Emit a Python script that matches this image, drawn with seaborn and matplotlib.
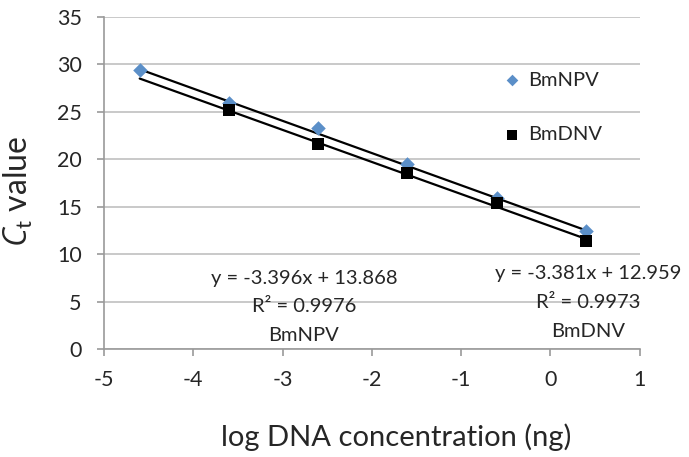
import numpy as np
import pandas as pd
import seaborn as sns
import matplotlib
matplotlib.use("Agg")
import matplotlib.pyplot as plt

# Data
log_conc = [-4.6, -3.6, -2.6, -1.6, -0.6, 0.4]
bmnpv_ct = [29.4, 25.9, 23.3, 19.5, 15.9, 12.4]
bmdnv_conc = [-3.6, -2.6, -1.6, -0.6, 0.4]
bmdnv_ct = [25.2, 21.6, 18.6, 15.4, 11.4]
series = ["BmNPV", "BmDNV"]
slopes = [-3.396, -3.381]
intercepts = [13.868, 12.959]
r2 = ["0.9976", "0.9973"]
fit_range = [-4.6, 0.4]

sns.set_theme(style="white")
plt.rcParams['font.family'] = ['Lato', 'DejaVu Sans']
plt.rcParams['axes.unicode_minus'] = False
plt.rcParams['mathtext.fontset'] = 'custom'
plt.rcParams['mathtext.it'] = 'Open Sans:italic'
plt.rcParams['mathtext.rm'] = 'Lato'

fig = plt.figure(figsize=(6.89, 4.57), dpi=100)
ax = fig.add_axes([104 / 689, 108 / 457, 535.5 / 689, 332 / 457])

# Trend lines
for s, m, b in zip(series, slopes, intercepts):
    xs = np.array(fit_range)
    fit_df = pd.DataFrame({"x": xs, "y": m * xs + b})
    sns.lineplot(data=fit_df, x="x", y="y", ax=ax, color="black", linewidth=1.6, legend=False)

df1 = pd.DataFrame({"x": log_conc, "y": bmnpv_ct})
df2 = pd.DataFrame({"x": bmdnv_conc, "y": bmdnv_ct})
sns.scatterplot(data=df1, x="x", y="y", ax=ax, marker="D", s=55, color="#5b8fc8",
                edgecolor="#5b8fc8", linewidth=0, label="BmNPV", zorder=3)
sns.scatterplot(data=df2, x="x", y="y", ax=ax, marker="s", s=70, color="black",
                edgecolor="black", linewidth=0, label="BmDNV", zorder=4)

ax.set_xlim(-5, 1)
ax.set_ylim(0, 35)
ax.set_xticks(range(-5, 2))
ax.set_yticks(range(0, 36, 5))
ax.grid(axis="y", color="#c0c0c0", linewidth=1.2)
ax.set_axisbelow(True)
for sp in ["top", "right"]:
    ax.spines[sp].set_visible(False)
for sp in ["left", "bottom"]:
    ax.spines[sp].set_color("#9a9a9a")
    ax.spines[sp].set_linewidth(1.2)
ax.tick_params(axis="both", which="major", length=5, width=1.2, color="#9a9a9a",
               labelsize=15.5, direction="out", bottom=True, left=True)
ax.tick_params(axis="y", pad=11)
ax.tick_params(axis="x", pad=10)

ax.set_xlabel("log DNA concentration (ng)", fontsize=21)
ax.xaxis.set_label_coords(0.545, -0.225)
ax.set_ylabel(r"$C_\mathrm{t}$ value", fontsize=23)
ax.yaxis.set_label_coords(-0.128, 0.475)

# Equation annotations
ax.text(-2.76, 8.3, f"y = {slopes[0]}x + {intercepts[0]}\nR² = {r2[0]}\nBmNPV",
        ha="center", va="top", fontsize=14.5, linespacing=1.8)
ax.text(0.42, 8.85, f"y = {slopes[1]}x + {intercepts[1]}\nR² = {r2[1]}\nBmDNV",
        ha="center", va="top", fontsize=14.5, linespacing=1.85)

leg = ax.legend(loc="upper left", bbox_to_anchor=(0.71, 0.89), frameon=False,
                fontsize=14.5, labelspacing=1.85, handletextpad=0.3, handlelength=1.0,
                markerscale=0.8)

fig.savefig("out.png", dpi=100)
